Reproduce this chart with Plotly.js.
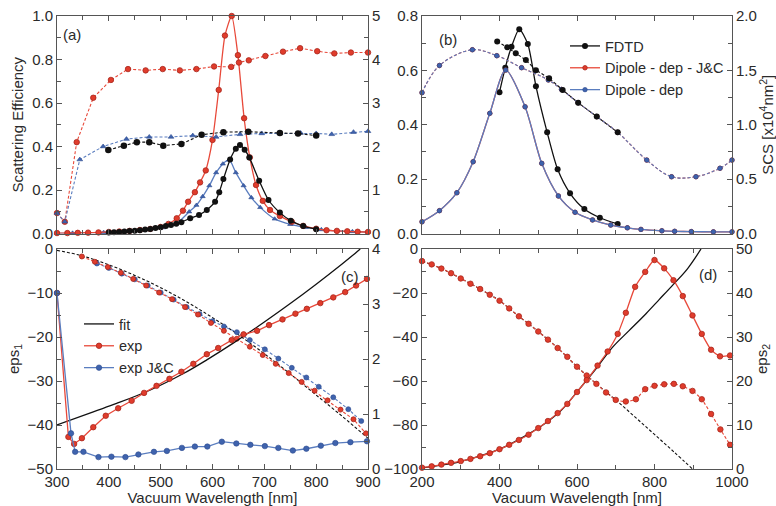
<!DOCTYPE html>
<html>
<head>
<meta charset="utf-8">
<script src="https://cdn.plot.ly/plotly-3.0.1.min.js"></script>
<style>html,body{margin:0;padding:0;background:#fff;}#chart{width:776px;height:506px;}</style>
</head>
<body>
<div id="chart"></div>
<script>
// ---------- Panel (a): scattering efficiency (left) and dashed curves (right axis) ----------
const aWlFdtdEff = [400,410,420,430,440,450,460,470,480,490,500,510,520,530,540,557,574,589,605,613,621,634,645,653,662,671,690,708,730,751,775,800];
const aFdtdEff   = [0.005,0.006,0.007,0.009,0.011,0.013,0.015,0.018,0.021,0.025,0.029,0.034,0.039,0.045,0.052,0.07,0.085,0.108,0.146,0.19,0.25,0.34,0.39,0.407,0.385,0.35,0.243,0.154,0.096,0.059,0.034,0.02];
const aWlRedEff  = [300,320,340,360,380,400,420,440,460,480,500,515,531,543,553,566,576,587,600,612,624,637,649,661,672,684,697,711,730,753,775,800,820,840,860,880,900];
const aRedEff    = [0.002,0.002,0.003,0.004,0.005,0.007,0.009,0.012,0.016,0.021,0.03,0.044,0.07,0.105,0.146,0.19,0.235,0.29,0.43,0.66,0.91,1.0,0.82,0.53,0.35,0.223,0.15,0.108,0.08,0.054,0.035,0.022,0.015,0.012,0.01,0.008,0.007];
const aWlBlueEff = [300,330,360,390,420,450,480,505,530,555,569,581,594,607,620,632,645,660,675,692,720,750,780,810,840,870,900];
const aBlueEff   = [0.001,0.002,0.003,0.005,0.008,0.012,0.018,0.027,0.045,0.1,0.13,0.17,0.22,0.28,0.32,0.338,0.28,0.22,0.165,0.12,0.067,0.042,0.028,0.018,0.012,0.009,0.007];
const aWlRedSca  = [300,315,338,370,404,437,471,504,537,569,603,636,651,670,702,736,769,802,835,867,900];
const aRedSca    = [0.47,0.27,2.1,3.12,3.53,3.78,3.75,3.78,3.75,3.78,3.84,3.83,3.93,3.98,4.08,4.18,4.26,4.19,4.14,4.16,4.16];
const aWlBlueSca = [300,315,344,389,434,478,520,562,607,653,695,730,770,800,830,872,900];
const aBlueSca   = [0.47,0.27,1.7,2.0,2.17,2.22,2.22,2.25,2.22,2.28,2.3,2.3,2.31,2.3,2.28,2.33,2.35];
const aWlFdtdSca = [399,429,454,478,505,540,579,621,669,730,765,800];
const aFdtdSca   = [1.92,2.02,2.1,2.1,2.02,2.06,2.27,2.33,2.34,2.31,2.3,2.25];

// ---------- Panel (b) ----------
const bWlFdtdEff = [400,415,431,451,473,494,523,550,582,619,659,705];
const bFdtdEff   = [0.52,0.61,0.687,0.751,0.697,0.542,0.372,0.236,0.148,0.09,0.058,0.035];
const bWlFdtdSca = [394,420,442,468,494,528,563,603,651,705];
const bFdtdSca   = [1.765,1.712,1.658,1.595,1.502,1.428,1.32,1.202,1.075,0.93];
const bWlDip     = [200,245,290,332,375,416,466,509,552,595,640,687,730,765,819,852,895,952,1000];
const bDipJCEff  = [0.043,0.084,0.15,0.264,0.442,0.601,0.466,0.258,0.138,0.078,0.05,0.031,0.021,0.015,0.01,0.008,0.007,0.006,0.006];
const bDipEff    = [0.043,0.084,0.15,0.264,0.442,0.601,0.466,0.258,0.138,0.078,0.05,0.031,0.021,0.015,0.01,0.008,0.007,0.006,0.006];
const bWlDipSca  = [200,245,330,393,457,526,560,603,651,705,780,844,907,969,1000];
const bDipJCSca  = [1.295,1.545,1.69,1.635,1.525,1.412,1.325,1.202,1.075,0.93,0.675,0.522,0.522,0.6,0.675];
const bDipSca    = [1.295,1.545,1.69,1.635,1.525,1.412,1.325,1.202,1.075,0.93,0.675,0.522,0.522,0.6,0.675];

// ---------- Panel (c): eps1 (left) / eps2 (right) ----------
const cWlFitE1 = [300,350,400,450,500,550,600,650,700,750,800,850,900];
const cFitE1   = [-0.3,-1.6,-3.6,-6.0,-8.8,-12.0,-15.6,-19.5,-23.8,-28.4,-33.2,-38.0,-43.0];
const cWlExpE1 = [348,373,398,423,447,472,497,522,547,572,597,622,647,672,697,722,747,772,797,822,847,872,896];
const cExpE1   = [-1.7,-2.9,-4.1,-5.4,-6.8,-8.3,-9.9,-11.4,-13.2,-14.9,-16.8,-18.6,-20.4,-22.2,-24.1,-26.1,-28.2,-30.2,-32.2,-34.4,-36.5,-38.7,-41.9];
const cWlJcE1  = [377,400,425,450,475,500,525,550,575,600,622,647,672,701,727,753,781,805,833,862,887];
const cJcE1    = [-3.3,-4.3,-5.6,-6.9,-8.3,-9.9,-11.5,-13.2,-14.8,-16.4,-17.6,-18.9,-20.7,-22.8,-24.9,-27,-29.2,-31.3,-33.7,-36.4,-39.1];
const cWlFitE2 = [300,370,415,479,544,589,640,700,750,800,850,875,885];
const cFitE2   = [0.8,1.04,1.192,1.432,1.736,1.984,2.288,2.672,3.008,3.36,3.728,3.92,4.0];
const cWlExpE2 = [300,322,333,348,370,394,418,444,468,492,517,540,563,589,611,637,660,686,709,735,760,782,808,833,856,877,898];
const cExpE2   = [3.2,0.584,0.456,0.56,0.76,0.968,1.104,1.24,1.384,1.512,1.64,1.768,1.912,2.088,2.2,2.344,2.448,2.512,2.616,2.72,2.824,2.912,3.016,3.12,3.216,3.336,3.456];
const cWlJcE2  = [300,327,335,351,380,405,432,457,487,512,541,566,590,618,646,673,701,727,755,781,809,837,866,898];
const cJcE2    = [3.2,0.648,0.312,0.312,0.216,0.224,0.216,0.264,0.312,0.328,0.384,0.408,0.408,0.496,0.464,0.44,0.416,0.384,0.336,0.368,0.424,0.472,0.488,0.504];

// ---------- Panel (d) ----------
const dWlFitE1 = [200,250,300,350,400,450,500,550,600,650,700,750,800,850,900];
const dFitE1   = [-5.5,-8.9,-13.4,-18.2,-23.5,-30.6,-37.5,-45,-53.5,-61.3,-68.6,-76.4,-84.3,-92.2,-100.3];
const dWlExpE1 = [200,225,250,275,300,325,350,375,400,425,450,475,500,525,550,575,600,625,650,675,700,726,752,776,800,825,850,873,898,922,946,970,995];
const dExpE1   = [-5.5,-7,-8.9,-11,-13.4,-15.8,-18.2,-20.8,-23.5,-27,-30.6,-34,-37.5,-41.2,-45,-49,-53.5,-57.5,-61.3,-65.2,-68.6,-69.3,-68.3,-63.7,-62.2,-61.5,-61.3,-62.4,-64.5,-68.3,-75,-82,-89];
const dWlFitE2 = [200,250,300,348,400,434,480,520,560,606,650,692,735,778,812,847,885,920];
const dFitE2   = [0.25,0.9,1.7,2.9,4.5,5.95,8.2,10.5,13.4,18.15,22.9,27.7,31.5,35.3,38.5,41.8,45.5,50];
const dWlExpE2 = [200,225,250,275,300,325,350,375,400,425,450,475,500,525,550,575,600,625,653,679,705,726,750,776,800,825,849,873,898,922,946,969,995];
const dExpE2   = [0.3,0.6,1.0,1.4,1.8,2.3,2.9,3.6,4.5,5.5,6.6,7.8,9.3,10.9,12.7,14.8,17.5,20.2,23.5,26.7,30.7,35.5,41.4,44.8,47.5,45.6,42.9,39.3,34.9,30.7,27.1,25.6,25.8];

const FONT = 'Liberation Sans, Arial, Helvetica, sans-serif';
const TXT = '#2a2a2a';
const BLACK = '#111111', RED = '#e8493a', REDM = '#e03c2c', REDO = '#a8261c';
const BLUE = '#5a7dbf', BLUEM = '#3f63ad', BLUED = '#2c4a8e';
const DASH = '3px,2px';

function tr(x, y, xa, ya, o) {
  return Object.assign({type:'scatter', mode:'lines+markers', x:x, y:y, xaxis:xa, yaxis:ya,
    showlegend:false, hoverinfo:'skip', cliponaxis:false}, o);
}
const blk = (sz) => ({symbol:'circle', size:sz||6, color:BLACK});
const red = (sz) => ({symbol:'circle', size:sz||5.5, color:REDM, line:{color:REDO, width:0.8}});
const blu = (sz, sym) => ({symbol:sym||'circle', size:sz||5, color:BLUEM, line:{color:BLUED, width:0.6}});

const traces = [
  // (a)
  tr(aWlRedSca, aRedSca, 'x', 'y2', {line:{color:RED, width:1.1, dash:DASH}, marker:red(5.5)}),
  tr(aWlBlueSca, aBlueSca, 'x', 'y2', {line:{color:BLUE, width:1.1, dash:DASH}, marker:blu(5,'triangle-up')}),
  tr(aWlFdtdSca, aFdtdSca, 'x', 'y2', {line:{color:BLACK, width:1.1, dash:DASH}, marker:blk(6.5)}),
  tr(aWlBlueEff, aBlueEff, 'x', 'y', {line:{color:BLUE, width:1.3, shape:'spline', smoothing:0.8}, marker:blu(4.5,'triangle-up')}),
  tr(aWlRedEff, aRedEff, 'x', 'y', {line:{color:RED, width:1.3, shape:'spline', smoothing:0.6}, marker:red(5.5)}),
  tr(aWlFdtdEff, aFdtdEff, 'x', 'y', {line:{color:BLACK, width:1.3, shape:'spline', smoothing:0.6}, marker:blk(6)}),
  // (b)
  tr(bWlDipSca, bDipJCSca, 'x3', 'y6', {line:{color:RED, width:1.1, dash:DASH, shape:'spline'}, marker:red(4.5)}),
  tr(bWlDipSca, bDipSca, 'x3', 'y6', {line:{color:BLUE, width:1.1, dash:DASH, shape:'spline'}, marker:blu(4.5)}),
  tr(bWlFdtdSca, bFdtdSca, 'x3', 'y6', {line:{color:BLACK, width:1.1, dash:DASH}, marker:blk(6)}),
  tr(bWlFdtdEff, bFdtdEff, 'x3', 'y5', {name:'FDTD', showlegend:true, legend:'legend', line:{color:BLACK, width:1.3, shape:'spline', smoothing:0.7}, marker:blk(6)}),
  tr(bWlDip, bDipJCEff, 'x3', 'y5', {name:'Dipole - dep - J&C', showlegend:true, legend:'legend', line:{color:RED, width:1.3, shape:'spline', smoothing:0.8}, marker:red(4.5)}),
  tr(bWlDip, bDipEff, 'x3', 'y5', {name:'Dipole - dep', showlegend:true, legend:'legend', line:{color:BLUE, width:1.3, shape:'spline', smoothing:0.8}, marker:blu(4.5)}),
  // (c)
  tr(cWlFitE1, cFitE1, 'x2', 'y3', {mode:'lines', line:{color:BLACK, width:1.1, dash:DASH, shape:'spline'}}),
  tr(cWlJcE1, cJcE1, 'x2', 'y3', {line:{color:BLUE, width:1.1, dash:DASH}, marker:blu(5)}),
  tr(cWlExpE1, cExpE1, 'x2', 'y3', {line:{color:RED, width:1.1, dash:DASH}, marker:red(5)}),
  tr(cWlFitE2, cFitE2, 'x2', 'y4', {name:'fit', showlegend:true, legend:'legend2', mode:'lines', line:{color:BLACK, width:1.3, shape:'spline'}}),
  tr(cWlExpE2, cExpE2, 'x2', 'y4', {name:'exp', showlegend:true, legend:'legend2', line:{color:RED, width:1.3}, marker:red(5.5)}),
  tr(cWlJcE2, cJcE2, 'x2', 'y4', {name:'exp J&C', showlegend:true, legend:'legend2', line:{color:BLUE, width:1.3}, marker:blu(5.5)}),
  // (d)
  tr(dWlFitE1, dFitE1, 'x4', 'y7', {mode:'lines', line:{color:BLACK, width:1.1, dash:DASH, shape:'spline'}}),
  tr(dWlExpE1, dExpE1, 'x4', 'y7', {line:{color:RED, width:1.1, dash:DASH, shape:'spline', smoothing:0.6}, marker:red(5.5)}),
  tr(dWlFitE2, dFitE2, 'x4', 'y8', {mode:'lines', line:{color:BLACK, width:1.3, shape:'spline'}}),
  tr(dWlExpE2, dExpE2, 'x4', 'y8', {line:{color:RED, width:1.3, shape:'spline', smoothing:0.6}, marker:red(5.5)})
];

const W = 776, H = 506;
const dxL = [57/W, 368/W], dxR = [422/W, 732/W];
const dyT = [1-233.5/H, 1-16/H], dyB = [1-469/H, 1-249/H];
const AX = '#555555';
const tickFont = {family:FONT, size:15, color:TXT};
const titleFont = {family:FONT, size:15, color:TXT};

function xax(dom, anchor, range, tickvals, minorDt, labels, title) {
  const o = {domain:dom, anchor:anchor, range:range, tickvals:tickvals, ticks:'inside', ticklen:5, tickcolor:AX,
    minor:{dtick:minorDt, ticks:'inside', ticklen:4, tickcolor:AX},
    showline:true, linecolor:AX, linewidth:1, mirror:'ticks', showgrid:false, zeroline:false,
    showticklabels:labels, tickfont:tickFont, ticklabelstandoff:-1, fixedrange:true};
  if (title) o.title = {text:title, font:titleFont, standoff:6};
  return o;
}
function yax(dom, anchor, range, dt, minorDt, fmt, side, overlay, title) {
  const o = {anchor:anchor, range:range, dtick:dt, tick0:range[0], tickformat:fmt, ticks:'inside', ticklen:5, tickcolor:AX,
    minor:{dtick:minorDt, ticks:'inside', ticklen:4, tickcolor:AX},
    showline:true, linecolor:AX, linewidth:1, mirror:false, showgrid:false, zeroline:false,
    tickfont:tickFont, side:side, fixedrange:true};
  if (title) o.title = {text:title, font:titleFont, standoff:4};
  if (overlay) o.overlaying = overlay; else o.domain = dom;
  return o;
}
function label(t, px, py) {
  return {text:t, x:px/W, y:1-py/H, xref:'paper', yref:'paper', xanchor:'center', yanchor:'middle',
    showarrow:false, font:{family:FONT, size:15, color:TXT}};
}

const layout = {
  width:W, height:H, margin:{l:0, r:0, t:0, b:0}, paper_bgcolor:'#fff', plot_bgcolor:'rgba(0,0,0,0)',
  font:{family:FONT, color:TXT},
  xaxis:  xax(dxL, 'y',  [300,900], [300,400,500,600,700,800,900], 50, false),
  xaxis2: xax(dxL, 'y3', [300,900], [300,400,500,600,700,800,900], 50, true, 'Vacuum Wavelength [nm]'),
  xaxis3: xax(dxR, 'y5', [200,1000], [200,400,600,800,1000], 100, false),
  xaxis4: xax(dxR, 'y7', [200,1000], [200,400,600,800,1000], 100, true, 'Vacuum Wavelength [nm]'),
  yaxis:  yax(dyT, 'x',  [0,1], 0.2, 0.1, '.1f', 'left', null, 'Scattering Efficiency'),
  yaxis2: yax(dyT, 'x',  [0,5], 1, 0.5, 'd', 'right', 'y'),
  yaxis3: yax(dyB, 'x2', [-50,0], 10, 5, 'd', 'left', null, 'eps<sub>1</sub>'),
  yaxis4: yax(dyB, 'x2', [0,4], 1, 0.5, 'd', 'right', 'y3'),
  yaxis5: yax(dyT, 'x3', [0,0.8], 0.2, 0.1, '.1f', 'left', null),
  yaxis6: yax(dyT, 'x3', [0,2], 0.5, 0.25, '.1f', 'right', 'y5', 'SCS [x10<sup>4</sup>nm<sup>2</sup>]'),
  yaxis7: yax(dyB, 'x4', [-100,0], 20, 10, 'd', 'left', null),
  yaxis8: yax(dyB, 'x4', [0,50], 10, 5, 'd', 'right', 'y7', 'eps<sub>2</sub>'),
  legend:  {x:565/W, y:1-30/H, xanchor:'left', yanchor:'top', bgcolor:'rgba(0,0,0,0)', borderwidth:0,
            font:{family:FONT, size:14.5, color:TXT}, itemwidth:30, tracegroupgap:0, itemclick:false},
  legend2: {x:79/W, y:1-308/H, xanchor:'left', yanchor:'top', bgcolor:'rgba(0,0,0,0)', borderwidth:0,
            font:{family:FONT, size:14.5, color:TXT}, itemwidth:30, tracegroupgap:0, itemclick:false},
  annotations: [label('(a)', 72, 34), label('(b)', 448, 39), label('(c)', 350, 276), label('(d)', 708, 274)]
};

Plotly.newPlot('chart', traces, layout, {displayModeBar:false, staticPlot:true});
</script>
</body>
</html>
